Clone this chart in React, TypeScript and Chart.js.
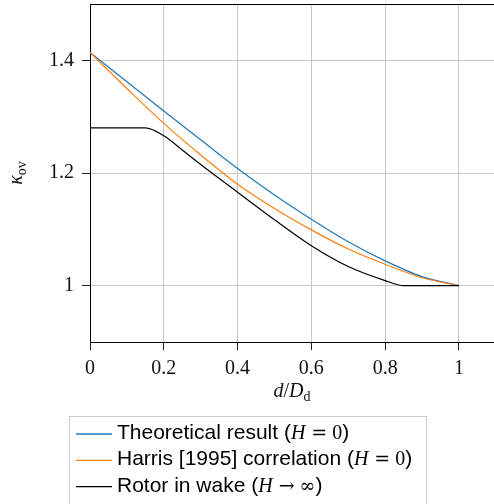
import React, { useEffect, useRef } from 'react';
import { Chart, registerables } from 'chart.js';

Chart.register(...registerables);

// ---- data ----
const dGrid = [0, 0.1, 0.2, 0.3, 0.4, 0.5, 0.6, 0.7, 0.8, 0.9, 1.0];
const theoretical = [1.414, 1.362, 1.310, 1.259, 1.208, 1.161, 1.118, 1.078, 1.044, 1.016, 1.0];
const harris = [1.414, 1.350, 1.288, 1.232, 1.180, 1.137, 1.099, 1.065, 1.038, 1.014, 1.0];
const rotorD = [0, 0.15, 0.2, 0.25, 0.3, 0.4, 0.5, 0.6, 0.7, 0.8, 0.85, 1.0];
const rotorWake = [1.280, 1.280, 1.266, 1.241, 1.215, 1.166, 1.117, 1.071, 1.034, 1.009, 1.0, 1.0];

const xTicks = [0, 0.2, 0.4, 0.6, 0.8, 1];
const yTicks = [1, 1.2, 1.4];

const seriesColors = ['#1f77b4', '#ff7f0e', '#000000'];
const seriesNames = ['Theoretical result', 'Harris [1995] correlation', 'Rotor in wake'];
// math part of each legend label: [symbol, operator, value]
const seriesMath = [
  ['H', '=', '0'],
  ['H', '=', '0'],
  ['H', '\u2192', '\u221E'],
];

const SANS = '21px "Liberation Sans", Arial, sans-serif';
const SERIF = '20px "Liberation Serif", "Times New Roman", serif';
const SERIF_I = 'italic 20px "Liberation Serif", "Times New Roman", serif';
const SERIF_SUB = '14px "Liberation Serif", "Times New Roman", serif';
const SYM = '19px "DejaVu Serif", serif';

type Seg = { t: string; f: string; gapL?: number; gapR?: number; dy?: number };

function drawSegs(ctx: CanvasRenderingContext2D, x: number, y: number, segs: Seg[], measureOnly = false) {
  let cx = x;
  for (const s of segs) {
    cx += s.gapL || 0;
    ctx.font = s.f;
    if (!measureOnly) ctx.fillText(s.t, cx, y + (s.dy || 0));
    cx += ctx.measureText(s.t).width;
    cx += s.gapR || 0;
  }
  return cx - x;
}

const overlayPlugin = {
  id: 'overlay',
  afterDraw(chart: any) {
    const ctx: CanvasRenderingContext2D = chart.ctx;
    const a = chart.chartArea;
    ctx.save();
    // top spine
    ctx.strokeStyle = '#000';
    ctx.lineWidth = 1;
    ctx.beginPath();
    ctx.moveTo(a.left, a.top + 0.5);
    ctx.lineTo(a.right, a.top + 0.5);
    ctx.stroke();

    ctx.fillStyle = '#111';
    ctx.textBaseline = 'alphabetic';
    ctx.textAlign = 'left';

    // x-axis title d/D_d
    const xSegs: Seg[] = [
      { t: 'd', f: SERIF_I },
      { t: '/', f: SERIF },
      { t: 'D', f: SERIF_I },
      { t: 'd', f: SERIF_SUB, dy: 3.5 },
    ];
    const xw = drawSegs(ctx, 0, 0, xSegs, true);
    drawSegs(ctx, (a.left + a.right) / 2 - xw / 2, 397, xSegs);

    // y-axis title kappa_ov
    const ySegs: Seg[] = [
      { t: '\u03BA', f: SERIF_I },
      { t: 'ov', f: SERIF_SUB, dy: 3.5 },
    ];
    const yw = drawSegs(ctx, 0, 0, ySegs, true);
    ctx.save();
    ctx.translate(22, (a.top + a.bottom) / 2);
    ctx.rotate(-Math.PI / 2);
    drawSegs(ctx, -yw / 2, 0, ySegs);
    ctx.restore();

    // legend
    const boxL = 69.5, boxT = 416.5, boxR = 426.5;
    ctx.fillStyle = '#fff';
    ctx.fillRect(boxL, boxT, boxR - boxL, 100);
    ctx.strokeStyle = '#cccccc';
    ctx.lineWidth = 1;
    ctx.strokeRect(boxL, boxT, boxR - boxL, 100);
    const rowY = [434, 460.3, 486.6];
    for (let i = 0; i < seriesNames.length; i++) {
      ctx.strokeStyle = seriesColors[i];
      ctx.lineWidth = 1.3;
      ctx.beginPath();
      ctx.moveTo(76, rowY[i]);
      ctx.lineTo(112, rowY[i]);
      ctx.stroke();
      ctx.fillStyle = '#000';
      const m = seriesMath[i];
      drawSegs(ctx, 117, rowY[i] + 5, [
        { t: seriesNames[i] + ' (', f: SANS },
        { t: m[0], f: SERIF_I, gapR: 1 },
        { t: m[1], f: SYM, gapL: 5, gapR: 5 },
        { t: m[2], f: i === 2 ? SYM : SERIF },
        { t: ')', f: SANS },
      ]);
    }
    ctx.restore();
  },
};

export default function App() {
  const ref = useRef<HTMLCanvasElement | null>(null);
  useEffect(() => {
    if (!ref.current) return;
    const tickFont = { family: '"Liberation Serif", "Times New Roman", serif', size: 20 };
    const chart = new Chart(ref.current, {
      type: 'line',
      data: {
        datasets: [
          {
            label: seriesNames[0],
            data: dGrid.map((d, i) => ({ x: d, y: theoretical[i] })),
            borderColor: seriesColors[0],
            order: 3,
          },
          {
            label: seriesNames[1],
            data: dGrid.map((d, i) => ({ x: d, y: harris[i] })),
            borderColor: seriesColors[1],
            order: 2,
          },
          {
            label: seriesNames[2],
            data: rotorD.map((d, i) => ({ x: d, y: rotorWake[i] })),
            borderColor: seriesColors[2],
            order: 1,
          },
        ],
      },
      options: {
        animation: false,
        responsive: false,
        maintainAspectRatio: false,
        layout: { padding: { left: 0, right: 0, top: 4, bottom: 0 } },
        plugins: { legend: { display: false }, tooltip: { enabled: false } },
        elements: {
          point: { radius: 0 },
          line: { borderWidth: 1.2, cubicInterpolationMode: 'monotone', fill: false },
        },
        scales: {
          x: {
            type: 'linear',
            min: 0,
            max: 1.095,
            afterBuildTicks: (s: any) => { s.ticks = xTicks.map((v) => ({ value: v })); },
            afterFit: (s: any) => { s.height = 162; s.paddingLeft = 0; s.paddingRight = 0; },
            grid: { color: '#c8c8c8', lineWidth: 1, tickColor: '#222', tickLength: 8 },
            border: { display: true, color: '#000', width: 1 },
            ticks: { font: tickFont, color: '#111', padding: 7, maxRotation: 0, autoSkip: false, callback: (v: any) => String(v) },
          },
          y: {
            type: 'linear',
            min: 0.9,
            max: 1.5,
            afterBuildTicks: (s: any) => { s.ticks = yTicks.map((v) => ({ value: v })); },
            afterFit: (s: any) => { s.width = 90; s.paddingTop = 0; s.paddingBottom = 0; },
            grid: { color: '#c8c8c8', lineWidth: 1, tickColor: '#222', tickLength: 8 },
            border: { display: true, color: '#000', width: 1 },
            ticks: { font: tickFont, color: '#111', padding: 8, autoSkip: false, callback: (v: any) => String(v) },
          },
        },
      },
      plugins: [overlayPlugin],
    } as any);
    return () => chart.destroy();
  }, []);
  return (
    <div style={{ position: 'absolute', left: 0, top: 0, width: 494, height: 504, overflow: 'hidden', background: '#fff' }}>
      <canvas ref={ref} width={494} height={504} style={{ display: 'block' }} />
    </div>
  );
}
